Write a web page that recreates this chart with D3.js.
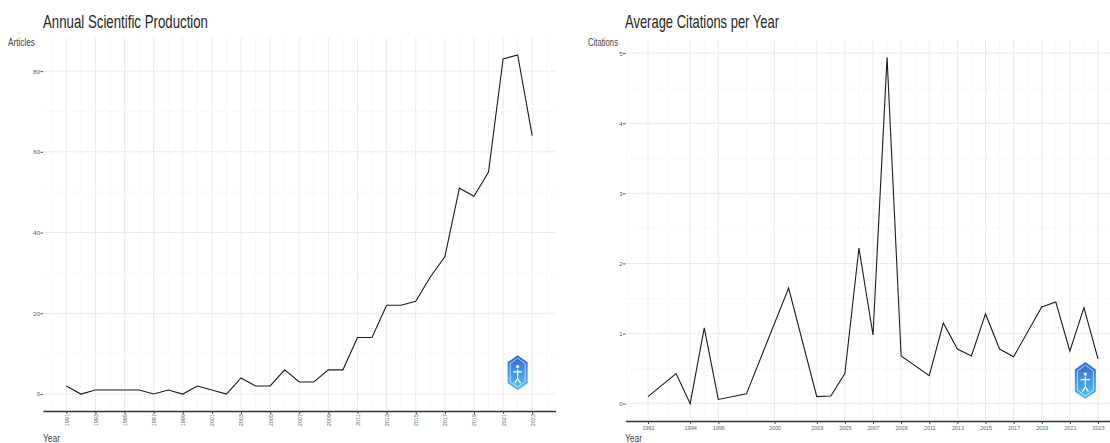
<!DOCTYPE html>
<html>
<head>
<meta charset="utf-8">
<script src="https://cdn.jsdelivr.net/npm/d3@7"></script>
<style>
  body { margin: 0; background: #fff; }
  text { font-family: "Liberation Sans", Arial, sans-serif; }
</style>
</head>
<body>
<div id="chart"></div>
<script>
// values
var prodYears = [1991,1992,1993,1994,1995,1996,1997,1998,1999,2000,2001,2002,2003,2004,2005,2006,2007,2008,2009,2010,2011,2012,2013,2014,2015,2016,2017,2018,2019,2020,2021,2022,2023];
var prodArticles = [2,0,1,1,1,1,0,1,0,2,1,0,4,2,2,6,3,3,6,6,14,14,22,22,23,29,34,51,49,55,83,84,64];
var prodXTicks = [1991,1993,1995,1997,1999,2001,2003,2005,2007,2009,2011,2013,2015,2017,2019,2021,2023];
var prodYTicks = [0,20,40,60,80];

var citeYears = [1991,1993,1994,1995,1996,1998,2001,2003,2004,2005,2006,2007,2008,2009,2011,2012,2013,2014,2015,2016,2017,2019,2020,2021,2022,2023];
var citeValues = [0.1,0.43,0,1.08,0.06,0.14,1.65,0.1,0.11,0.43,2.22,0.98,4.94,0.68,0.4,1.15,0.78,0.68,1.28,0.78,0.67,1.38,1.45,0.75,1.37,0.64];
var citeXTicks = [1991,1994,1996,2000,2003,2005,2007,2009,2011,2013,2015,2017,2019,2021,2023];
var citeYTicks = [0,1,2,3,4,5];

var svg = d3.select("#chart").append("svg")
  .attr("width", 1110)
  .attr("height", 443);

// logo gradient
var defs = svg.append("defs");
var grad = defs.append("linearGradient").attr("id", "logoGrad")
  .attr("x1", 0).attr("y1", 0).attr("x2", 0).attr("y2", 1);
grad.append("stop").attr("offset", "0%").attr("stop-color", "#3566cf");
grad.append("stop").attr("offset", "100%").attr("stop-color", "#52c6f4");

function drawPanel(opt) {
  var x = d3.scaleLinear().domain(opt.xDomain).range(opt.xRange);
  var y = d3.scaleLinear().domain(opt.yDomain).range(opt.yRange);
  var g = svg.append("g");

  var top = opt.yRange[1], bottom = opt.yRange[0];
  var left = opt.xRange[0], right = opt.xRange[1];

  // minor grid (midpoints between breaks)
  var xMinor = [];
  for (var i = 0; i < opt.xTicks.length - 1; i++) xMinor.push((opt.xTicks[i] + opt.xTicks[i + 1]) / 2);
  xMinor.push(opt.xTicks[0] - (opt.xTicks[1] - opt.xTicks[0]) / 2);
  xMinor.push(opt.xTicks[opt.xTicks.length - 1] + (opt.xTicks[1] - opt.xTicks[0]) / 2);
  xMinor = xMinor.filter(function(v) { return v >= opt.xDomain[0] && v <= opt.xDomain[1]; });
  var yMinor = [];
  for (var j = 0; j < opt.yTicks.length - 1; j++) yMinor.push((opt.yTicks[j] + opt.yTicks[j + 1]) / 2);

  g.selectAll(".xminor").data(xMinor).enter().append("line")
    .attr("x1", d => x(d)).attr("x2", d => x(d))
    .attr("y1", top).attr("y2", bottom)
    .attr("stroke", "#f2f2f2").attr("stroke-width", 0.6);
  g.selectAll(".yminor").data(yMinor).enter().append("line")
    .attr("x1", left).attr("x2", right)
    .attr("y1", d => y(d)).attr("y2", d => y(d))
    .attr("stroke", "#f4f4f4").attr("stroke-width", 0.6);

  // major grid
  g.selectAll(".xgrid").data(opt.xTicks).enter().append("line")
    .attr("x1", d => x(d)).attr("x2", d => x(d))
    .attr("y1", top).attr("y2", bottom)
    .attr("stroke", "#ebebeb").attr("stroke-width", 1);
  g.selectAll(".ygrid").data(opt.yTicks).enter().append("line")
    .attr("x1", left).attr("x2", right)
    .attr("y1", d => y(d)).attr("y2", d => y(d))
    .attr("stroke", "#ebebeb").attr("stroke-width", 1);

  // x axis
  var xAxis = g.append("g")
    .attr("transform", `translate(0,${bottom})`)
    .call(d3.axisBottom(x).tickValues(opt.xTicks).tickFormat(d3.format("d")).tickSize(3).tickSizeOuter(0));
  xAxis.select(".domain").attr("stroke", "#333").attr("stroke-width", 1.4);
  xAxis.selectAll(".tick line").attr("stroke", "#444");
  xAxis.selectAll("text").attr("fill", "#666").style("font-size", "5.5px");
  if (opt.rotate) {
    xAxis.selectAll("text")
      .attr("transform", "rotate(-90)")
      .attr("text-anchor", "end")
      .attr("x", -3).attr("y", 0).attr("dy", "0.35em");
  } else {
    xAxis.selectAll("text").attr("y", 5);
  }

  // y axis (ticks and labels only)
  var yAxis = g.append("g")
    .attr("transform", `translate(${left},0)`)
    .call(d3.axisLeft(y).tickValues(opt.yTicks).tickFormat(d3.format("d")).tickSize(2.5));
  yAxis.select(".domain").remove();
  yAxis.selectAll(".tick line").attr("stroke", "#555");
  yAxis.selectAll("text").attr("fill", "#555").style("font-size", "6px").attr("x", -3);

  // line
  var line = d3.line().x(d => x(d[0])).y(d => y(d[1]));
  g.append("path")
    .datum(d3.zip(opt.xs, opt.ys))
    .attr("d", line)
    .attr("fill", "none")
    .attr("stroke", "#1c1c1c")
    .attr("stroke-width", 1.1);

  // titles
  svg.append("text").text(opt.title)
    .attr("x", opt.titleX).attr("y", 28)
    .attr("textLength", opt.titleLen).attr("lengthAdjust", "spacingAndGlyphs")
    .style("font-size", "19px").attr("fill", "#262626");
  svg.append("text").text(opt.yLabel)
    .attr("x", opt.yLabelX).attr("y", 46)
    .attr("textLength", opt.yLabelLen).attr("lengthAdjust", "spacingAndGlyphs")
    .style("font-size", "10px").attr("fill", "#444");
  svg.append("text").text("Year")
    .attr("x", opt.yearX).attr("y", 442)
    .attr("textLength", 17).attr("lengthAdjust", "spacingAndGlyphs")
    .style("font-size", "10px").attr("fill", "#444");

  // logo
  drawLogo(x(opt.logo[0]), y(opt.logo[1]), opt.logoW, opt.logoH);
}

function drawLogo(cx, cy, w, h) {
  var lg = svg.append("g").attr("transform", `translate(${cx},${cy})`);
  var hw = w / 2, hh = h / 2, k = h * 0.2;
  lg.append("path")
    .attr("d", `M0,${-hh} L${hw},${-hh + k} L${hw},${hh - k} L0,${hh} L${-hw},${hh - k} L${-hw},${-hh + k} Z`)
    .attr("fill", "url(#logoGrad)");
  lg.append("path")
    .attr("d", `M0,${-hh + 3} L${hw - 2.5},${-hh + k + 1.5} L${hw - 2.5},${hh - k - 1.5} L0,${hh - 3} L${-hw + 2.5},${hh - k - 1.5} L${-hw + 2.5},${-hh + k + 1.5} Z`)
    .attr("fill", "none").attr("stroke", "#fff").attr("stroke-width", 0.8).attr("opacity", 0.8);
  // little figure
  lg.append("circle").attr("cx", 0).attr("cy", -hh * 0.35).attr("r", 1.6).attr("fill", "#fff");
  lg.append("path")
    .attr("d", `M0,${-hh * 0.2} L0,${hh * 0.35} M${-hw * 0.45},${-hh * 0.05} L${hw * 0.45},${-hh * 0.05} M0,${hh * 0.35} L${-hw * 0.3},${hh * 0.6} M0,${hh * 0.35} L${hw * 0.3},${hh * 0.6}`)
    .attr("stroke", "#fff").attr("stroke-width", 1.2).attr("fill", "none");
}

drawPanel({
  xs: prodYears, ys: prodArticles,
  xTicks: prodXTicks, yTicks: prodYTicks,
  xDomain: [1989.4, 2024.6], xRange: [43, 555.5],
  yDomain: [-4.2, 88.2], yRange: [411, 38],
  rotate: true,
  title: "Annual Scientific Production", titleX: 43, titleLen: 165,
  yLabel: "Articles", yLabelX: 8, yLabelLen: 27,
  yearX: 43,
  logo: [2022, 5.3], logoW: 20, logoH: 35
});

drawPanel({
  xs: citeYears, ys: citeValues,
  xTicks: citeXTicks, yTicks: citeYTicks,
  xDomain: [1989.4, 2024.6], xRange: [625.5, 1120.5],
  yDomain: [-0.247, 5.187], yRange: [421, 40],
  rotate: false,
  title: "Average Citations per Year", titleX: 625, titleLen: 154,
  yLabel: "Citations", yLabelX: 588, yLabelLen: 30,
  yearX: 625,
  logo: [2022.1, 0.33], logoW: 21, logoH: 37
});
</script>
</body>
</html>
